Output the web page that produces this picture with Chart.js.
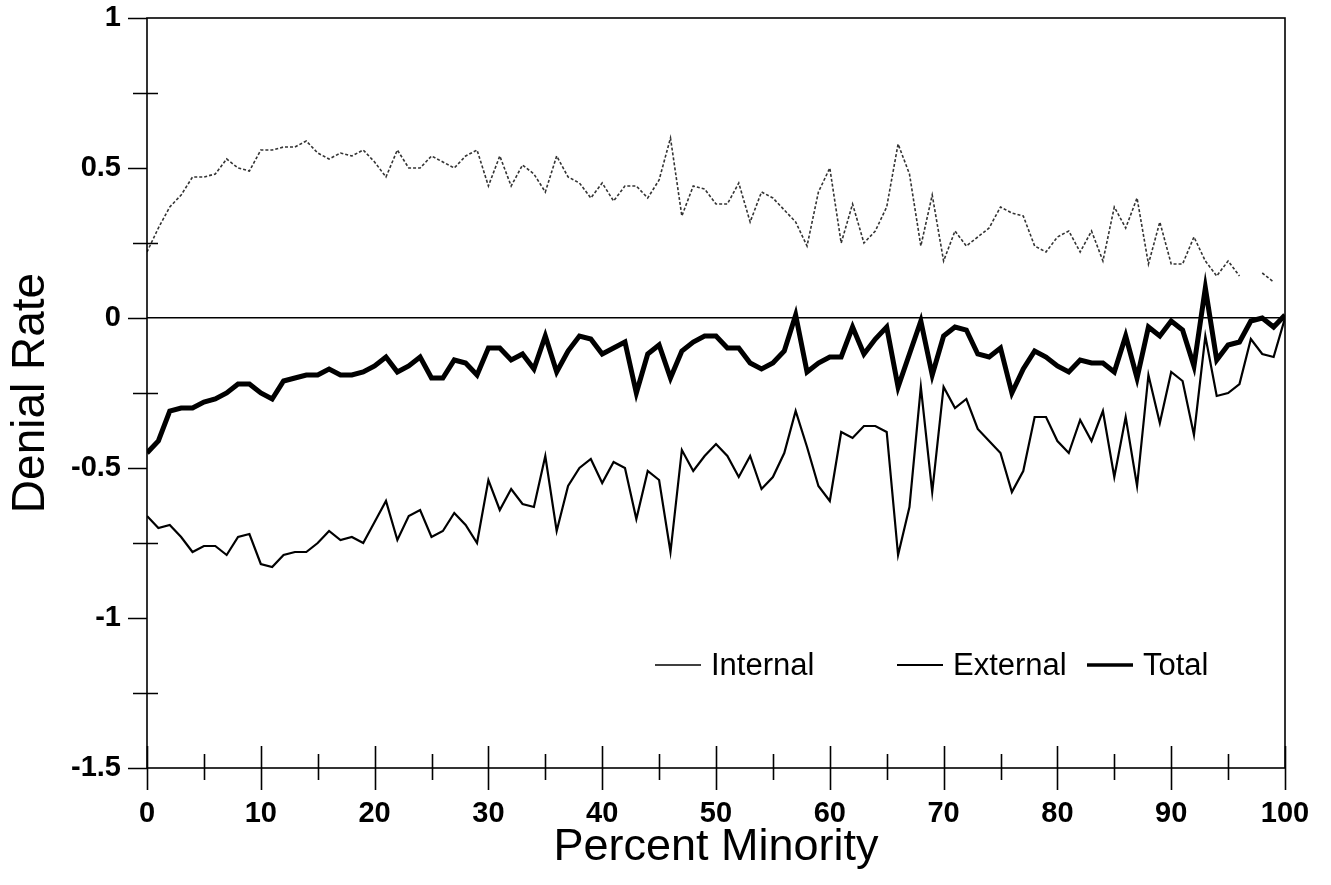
<!DOCTYPE html>
<html>
<head>
<meta charset="utf-8">
<script src="https://cdn.jsdelivr.net/npm/chart.js@4.4.0/dist/chart.umd.min.js"></script>
<style>
  html, body { margin: 0; padding: 0; background: #fff; }
  #wrap { width: 1331px; height: 885px; }
</style>
</head>
<body>
<div id="wrap"><canvas id="denialChart"></canvas></div>
<script>
const percentMinority = [
  0, 1, 2, 3, 4, 5, 6, 7, 8, 9, 10, 11, 12, 13, 14, 15, 16, 17, 18, 19,
  20, 21, 22, 23, 24, 25, 26, 27, 28, 29, 30, 31, 32, 33, 34, 35, 36, 37, 38, 39,
  40, 41, 42, 43, 44, 45, 46, 47, 48, 49, 50, 51, 52, 53, 54, 55, 56, 57, 58, 59,
  60, 61, 62, 63, 64, 65, 66, 67, 68, 69, 70, 71, 72, 73, 74, 75, 76, 77, 78, 79,
  80, 81, 82, 83, 84, 85, 86, 87, 88, 89, 90, 91, 92, 93, 94, 95, 96, 97, 98, 99, 100
];

const internalRate = [
  0.22, 0.30, 0.37, 0.41, 0.47, 0.47, 0.48, 0.53, 0.50, 0.49,
  0.56, 0.56, 0.57, 0.57, 0.59, 0.55, 0.53, 0.55, 0.54, 0.56,
  0.52, 0.47, 0.56, 0.50, 0.50, 0.54, 0.52, 0.50, 0.54, 0.56,
  0.44, 0.54, 0.44, 0.51, 0.48, 0.42, 0.54, 0.47, 0.45, 0.40,
  0.45, 0.39, 0.44, 0.44, 0.40, 0.46, 0.60, 0.34, 0.44, 0.43,
  0.38, 0.38, 0.45, 0.32, 0.42, 0.40, 0.36, 0.32, 0.24, 0.42,
  0.50, 0.25, 0.38, 0.25, 0.29, 0.37, 0.58, 0.48, 0.24, 0.41,
  0.19, 0.29, 0.24, 0.27, 0.30, 0.37, 0.35, 0.34, 0.24, 0.22,
  0.27, 0.29, 0.22, 0.29, 0.19, 0.37, 0.30, 0.40, 0.18, 0.32,
  0.18, 0.18, 0.27, 0.19, 0.14, 0.19, 0.14, null, 0.15, 0.12, null
];

const externalRate = [
  -0.66, -0.70, -0.69, -0.73, -0.78, -0.76, -0.76, -0.79, -0.73, -0.72,
  -0.82, -0.83, -0.79, -0.78, -0.78, -0.75, -0.71, -0.74, -0.73, -0.75,
  -0.68, -0.61, -0.74, -0.66, -0.64, -0.73, -0.71, -0.65, -0.69, -0.75,
  -0.54, -0.64, -0.57, -0.62, -0.63, -0.46, -0.71, -0.56, -0.50, -0.47,
  -0.55, -0.48, -0.50, -0.67, -0.51, -0.54, -0.78, -0.44, -0.51, -0.46,
  -0.42, -0.46, -0.53, -0.46, -0.57, -0.53, -0.45, -0.31, -0.43, -0.56,
  -0.61, -0.38, -0.40, -0.36, -0.36, -0.38, -0.79, -0.63, -0.23, -0.58,
  -0.23, -0.30, -0.27, -0.37, -0.41, -0.45, -0.58, -0.51, -0.33, -0.33,
  -0.41, -0.45, -0.34, -0.41, -0.31, -0.53, -0.33, -0.56, -0.19, -0.35,
  -0.18, -0.21, -0.39, -0.06, -0.26, -0.25, -0.22, -0.07, -0.12, -0.13, 0.00
];

const totalRate = [
  -0.45, -0.41, -0.31, -0.30, -0.30, -0.28, -0.27, -0.25, -0.22, -0.22,
  -0.25, -0.27, -0.21, -0.20, -0.19, -0.19, -0.17, -0.19, -0.19, -0.18,
  -0.16, -0.13, -0.18, -0.16, -0.13, -0.20, -0.20, -0.14, -0.15, -0.19,
  -0.10, -0.10, -0.14, -0.12, -0.17, -0.06, -0.18, -0.11, -0.06, -0.07,
  -0.12, -0.10, -0.08, -0.25, -0.12, -0.09, -0.20, -0.11, -0.08, -0.06,
  -0.06, -0.10, -0.10, -0.15, -0.17, -0.15, -0.11, 0.01, -0.18, -0.15,
  -0.13, -0.13, -0.03, -0.12, -0.07, -0.03, -0.23, -0.12, -0.01, -0.19,
  -0.06, -0.03, -0.04, -0.12, -0.13, -0.10, -0.25, -0.17, -0.11, -0.13,
  -0.16, -0.18, -0.14, -0.15, -0.15, -0.18, -0.06, -0.20, -0.03, -0.06,
  -0.01, -0.04, -0.16, 0.10, -0.14, -0.09, -0.08, -0.01, 0.00, -0.03, 0.01
];

const yMajorTicks = [-1.5, -1, -0.5, 0, 0.5, 1];
const xMajorTicks = [0, 10, 20, 30, 40, 50, 60, 70, 80, 90, 100];

const FONT = '"Liberation Sans", Arial, Helvetica, sans-serif';

// ticks that cross the axes, plot frame and the in-plot legend
const axisDecor = {
    id: 'axisDecor',
    afterDraw(chart) {
        const { ctx, chartArea: a, scales: { x, y } } = chart;
        ctx.save();
        ctx.strokeStyle = '#000';
        ctx.lineWidth = 1.6;
        ctx.strokeRect(a.left, a.top, a.right - a.left, a.bottom - a.top);

        ctx.beginPath();
        y.ticks.forEach(t => {
            const py = Math.round(y.getPixelForValue(t.value)) + 0.5;
            const major = yMajorTicks.includes(t.value);
            ctx.moveTo(a.left - (major ? 19 : 14), py);
            ctx.lineTo(a.left + (major ? 0 : 11), py);
        });
        x.ticks.forEach(t => {
            const px = Math.round(x.getPixelForValue(t.value)) + 0.5;
            const major = xMajorTicks.includes(t.value);
            ctx.moveTo(px, a.bottom - (major ? 22 : 14));
            ctx.lineTo(px, a.bottom + (major ? 22 : 12));
        });
        ctx.stroke();

        // legend
        const legendX = [655, 897, 1087];
        const legendY = 665;
        ctx.font = '31px ' + FONT;
        ctx.textBaseline = 'middle';
        ctx.fillStyle = '#000';
        chart.data.datasets.forEach((ds, i) => {
            ctx.beginPath();
            ctx.strokeStyle = '#000';
            ctx.lineWidth = ds.legendWidth;
            ctx.moveTo(legendX[i], legendY);
            ctx.lineTo(legendX[i] + 46, legendY);
            ctx.stroke();
            ctx.fillText(ds.label, legendX[i] + 56, legendY + 1);
        });
        ctx.restore();
    }
};

new Chart(document.getElementById('denialChart'), {
    type: 'line',
    data: {
        labels: percentMinority,
        datasets: [
            { label: 'Internal', data: internalRate, borderColor: '#333', borderWidth: 1.6,
              borderDash: [3, 2], legendWidth: 1.6, pointRadius: 0, spanGaps: false },
            { label: 'External', data: externalRate, borderColor: '#000', borderWidth: 2.2,
              legendWidth: 1.8, pointRadius: 0 },
            { label: 'Total', data: totalRate, borderColor: '#000', borderWidth: 5,
              legendWidth: 3.5, pointRadius: 0 }
        ]
    },
    options: {
        responsive: true,
        maintainAspectRatio: false,
        animation: false,
        layout: { padding: { top: 18, right: 46, left: 0, bottom: 0 } },
        plugins: { legend: { display: false }, tooltip: { enabled: false } },
        elements: { line: { tension: 0 } },
        scales: {
            x: {
                type: 'linear', min: 0, max: 100,
                afterFit: s => { s.height = 117; s.paddingLeft = 0; s.paddingRight = 0; },
                ticks: {
                    stepSize: 5, autoSkip: false, maxRotation: 0, padding: 29,
                    color: '#000', font: { family: FONT, size: 29, weight: 'bold' },
                    callback: v => xMajorTicks.includes(v) ? String(v) : ''
                },
                grid: { display: false, drawTicks: false },
                border: { display: false },
                title: {
                    display: true, text: 'Percent Minority', color: '#000',
                    font: { family: FONT, size: 45 }, padding: { top: 0, bottom: 10 }
                }
            },
            y: {
                type: 'linear', min: -1.5, max: 1,
                afterFit: s => { s.width = 147; s.paddingTop = 0; s.paddingBottom = 0; },
                ticks: {
                    stepSize: 0.25, autoSkip: false, padding: 26,
                    color: '#000', font: { family: FONT, size: 29, weight: 'bold' },
                    callback: v => yMajorTicks.includes(v) ? String(v) : ''
                },
                grid: {
                    drawTicks: false,
                    lineWidth: 1.6,
                    color: c => c.tick && c.tick.value === 0 ? '#000' : 'rgba(0,0,0,0)'
                },
                border: { display: false },
                title: {
                    display: true, text: 'Denial Rate', color: '#000',
                    font: { family: FONT, size: 46 }, padding: { top: 4, bottom: 0 }
                }
            }
        }
    },
    plugins: [axisDecor]
});
</script>
</body>
</html>
